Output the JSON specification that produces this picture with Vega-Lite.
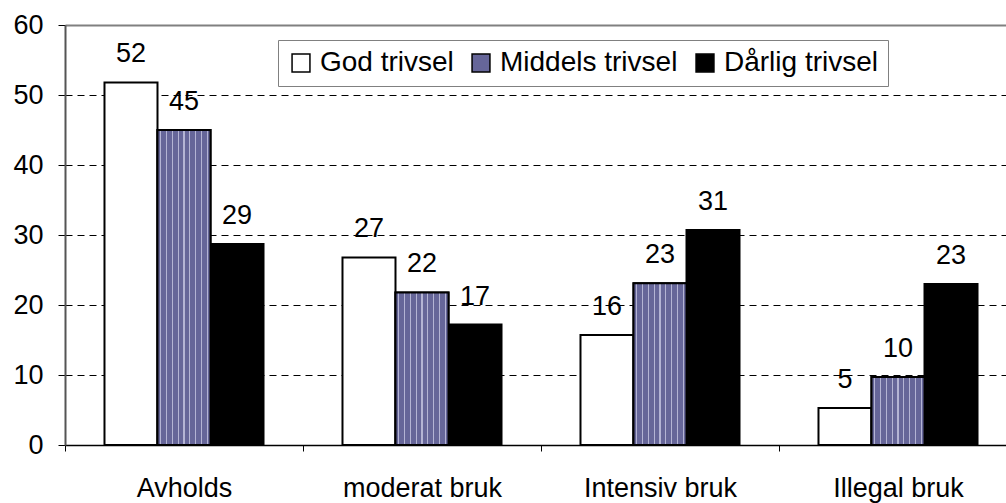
{
  "$schema": "https://vega.github.io/schema/vega-lite/v6.json",
  "width": 941,
  "height": 420,
  "autosize": {"type": "none"},
  "padding": {"left": 65, "top": 25, "right": 0, "bottom": 58},
  "background": "white",
  "config": {"view": {"stroke": null}, "font": "Liberation Sans"},
  "data": {
    "values": [
      {"kategori": "Avholds", "serie": "God trivsel", "verdi": 51.8},
      {"kategori": "Avholds", "serie": "Middels trivsel", "verdi": 45.0},
      {"kategori": "Avholds", "serie": "Dårlig trivsel", "verdi": 28.7},
      {"kategori": "moderat bruk", "serie": "God trivsel", "verdi": 26.8},
      {"kategori": "moderat bruk", "serie": "Middels trivsel", "verdi": 21.8},
      {"kategori": "moderat bruk", "serie": "Dårlig trivsel", "verdi": 17.2},
      {"kategori": "Intensiv bruk", "serie": "God trivsel", "verdi": 15.7},
      {"kategori": "Intensiv bruk", "serie": "Middels trivsel", "verdi": 23.1},
      {"kategori": "Intensiv bruk", "serie": "Dårlig trivsel", "verdi": 30.7},
      {"kategori": "Illegal bruk", "serie": "God trivsel", "verdi": 5.3},
      {"kategori": "Illegal bruk", "serie": "Middels trivsel", "verdi": 9.7},
      {"kategori": "Illegal bruk", "serie": "Dårlig trivsel", "verdi": 23.0}
    ]
  },
  "encoding": {
    "x": {
      "field": "kategori", "type": "nominal",
      "sort": ["Avholds", "moderat bruk", "Intensiv bruk", "Illegal bruk"],
      "scale": {"range": [0, 952], "paddingInner": 0, "paddingOuter": 0},
      "axis": {
        "title": null, "labelAngle": 0, "labelFontSize": 27, "labelColor": "black",
        "labelPadding": 24, "tickBand": "extent", "tickSize": 6, "tickColor": "black",
        "domainColor": "black", "domainWidth": 1.5, "grid": false
      }
    },
    "xOffset": {
      "field": "serie", "type": "nominal",
      "sort": ["God trivsel", "Middels trivsel", "Dårlig trivsel"],
      "scale": {"paddingInner": 0, "paddingOuter": 0.745}
    },
    "y": {
      "field": "verdi", "type": "quantitative",
      "scale": {"domain": [0, 60], "nice": false},
      "axis": {
        "title": null, "values": [0, 10, 20, 30, 40, 50, 60],
        "labelFontSize": 27, "labelColor": "black", "labelPadding": 15, "labelFlush": false,
        "tickSize": 7, "tickColor": "black", "domainColor": "#555555", "domainWidth": 2,
        "grid": true,
        "gridColor": {"condition": {"test": "datum.value === 60", "value": "#808080"}, "value": "black"},
        "gridDash": {"condition": {"test": "datum.value === 60", "value": []}, "value": [7, 5]},
        "gridWidth": {"condition": {"test": "datum.value === 60", "value": 2}, "value": 1},
        "gridOpacity": {"condition": {"test": "datum.value === 0", "value": 0}, "value": 1}
      }
    }
  },
  "layer": [
    {
      "mark": {"type": "bar", "stroke": "black", "strokeWidth": 2},
      "encoding": {
        "color": {
          "field": "serie", "type": "nominal",
          "sort": ["God trivsel", "Middels trivsel", "Dårlig trivsel"],
          "scale": {"domain": ["God trivsel", "Middels trivsel", "Dårlig trivsel"], "range": ["white", "#666699", "black"]},
          "legend": {
            "title": null, "orient": "none", "legendX": 213, "legendY": 15,
            "direction": "horizontal", "strokeColor": "#808080", "fillColor": "white",
            "padding": 9, "symbolType": "square", "symbolSize": 320,
            "symbolStrokeColor": "black", "symbolStrokeWidth": 1.5, "symbolOpacity": 1,
            "labelFontSize": 28, "labelColor": "black", "labelOffset": 5, "labelLimit": 400,
            "columnPadding": 13
          }
        }
      }
    },
    {
      "transform": [{"filter": "datum.serie === 'Middels trivsel'"}],
      "mark": {
        "type": "bar", "stroke": "black", "strokeWidth": 2,
        "fill": {
          "gradient": "linear", "x1": 0, "y1": 0, "x2": 1, "y2": 0,
          "stops": [
            {"offset": 0, "color": "#666699"},
            {"offset": 0.0456, "color": "#666699"}, {"offset": 0.0456, "color": "#b4b4d4"},
            {"offset": 0.0656, "color": "#b4b4d4"}, {"offset": 0.0656, "color": "#666699"},
            {"offset": 0.1567, "color": "#666699"}, {"offset": 0.1567, "color": "#b4b4d4"},
            {"offset": 0.1767, "color": "#b4b4d4"}, {"offset": 0.1767, "color": "#666699"},
            {"offset": 0.2678, "color": "#666699"}, {"offset": 0.2678, "color": "#b4b4d4"},
            {"offset": 0.2878, "color": "#b4b4d4"}, {"offset": 0.2878, "color": "#666699"},
            {"offset": 0.3789, "color": "#666699"}, {"offset": 0.3789, "color": "#b4b4d4"},
            {"offset": 0.3989, "color": "#b4b4d4"}, {"offset": 0.3989, "color": "#666699"},
            {"offset": 0.49, "color": "#666699"}, {"offset": 0.49, "color": "#b4b4d4"},
            {"offset": 0.51, "color": "#b4b4d4"}, {"offset": 0.51, "color": "#666699"},
            {"offset": 0.6011, "color": "#666699"}, {"offset": 0.6011, "color": "#b4b4d4"},
            {"offset": 0.6211, "color": "#b4b4d4"}, {"offset": 0.6211, "color": "#666699"},
            {"offset": 0.7122, "color": "#666699"}, {"offset": 0.7122, "color": "#b4b4d4"},
            {"offset": 0.7322, "color": "#b4b4d4"}, {"offset": 0.7322, "color": "#666699"},
            {"offset": 0.8233, "color": "#666699"}, {"offset": 0.8233, "color": "#b4b4d4"},
            {"offset": 0.8433, "color": "#b4b4d4"}, {"offset": 0.8433, "color": "#666699"},
            {"offset": 0.9344, "color": "#666699"}, {"offset": 0.9344, "color": "#b4b4d4"},
            {"offset": 0.9544, "color": "#b4b4d4"}, {"offset": 0.9544, "color": "#666699"},
            {"offset": 1, "color": "#666699"}
          ]
        }
      }
    },
    {
      "mark": {"type": "text", "fontSize": 27, "baseline": "alphabetic", "dy": -20, "color": "black"},
      "encoding": {
        "text": {"field": "verdi", "type": "quantitative", "format": ".0f"}
      }
    }
  ]
}
